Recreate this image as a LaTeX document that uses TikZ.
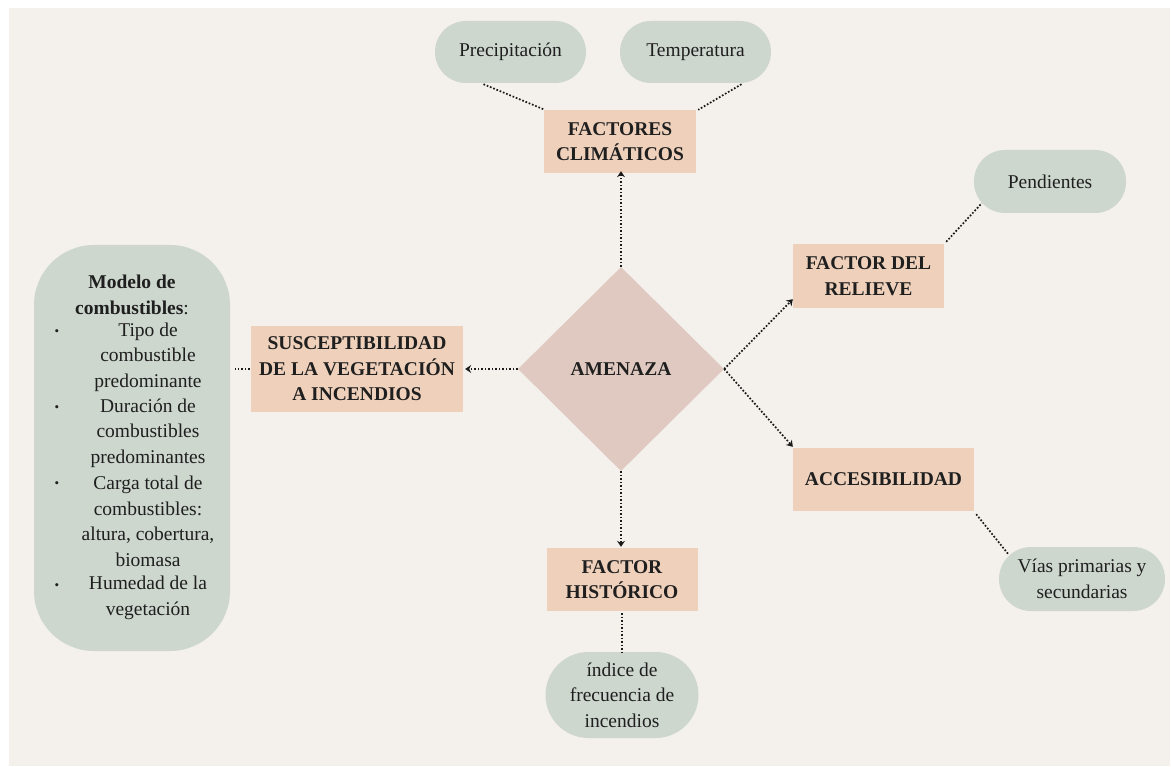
\documentclass[tikz,border=0pt]{standalone}
\usepackage{fontspec}
\setmainfont{Liberation Serif}
\usetikzlibrary{shapes.geometric,calc,arrows.meta}
\definecolor{bgc}{HTML}{F4F0EB}
\definecolor{pillc}{HTML}{CDD7CE}
\definecolor{peach}{HTML}{EFD1BB}
\definecolor{diam}{HTML}{DFC9C0}
\definecolor{txt}{HTML}{1F1F1F}
\definecolor{lnc}{HTML}{1A1A1A}
\begin{document}
\begin{tikzpicture}[x=1pt,y=-1pt,
  every node/.style={font=\fontsize{19.5}{25.5}\selectfont, text=txt, inner sep=0pt, align=center},
  pill/.style={fill=pillc, rounded corners=#1},
  pill/.default=31pt,
  factbox/.style={fill=peach, font=\fontsize{19.5}{25.5}\selectfont\bfseries},
  dots/.style={draw=lnc, line width=1.7pt, dash pattern=on 1.7pt off 1.8pt},
  arr/.style={dots, -{Stealth[length=6pt,width=8pt,inset=2pt]}},
  bul/.style={font=\fontsize{13}{13}\selectfont}
]
\useasboundingbox (0,0) rectangle (1171,767);
\fill[white] (0,0) rectangle (1171,767);
\fill[bgc] (9,8) rectangle (1170,766);

% climate
\node[pill, minimum width=151pt, minimum height=62pt] (prec) at (510.5,52) {Precipitación};
\node[pill, minimum width=151pt, minimum height=62pt] (temp) at (695.5,52) {Temperatura};
\node[factbox, minimum width=152pt, minimum height=63pt] (fc) at (620,141.5) {FACTORES\\CLIMÁTICOS};

% centre
\node[diamond, fill=diam, minimum width=206pt, minimum height=204pt, font=\fontsize{19.5}{25.5}\selectfont\bfseries] (amen) at (621,369) {AMENAZA};

% susceptibility
\node[factbox, minimum width=212pt, minimum height=86pt] (susc) at (357,369) {SUSCEPTIBILIDAD\\DE LA VEGETACIÓN\\A INCENDIOS};
\node[pill=60pt, minimum width=196pt, minimum height=406pt] (lp) at (132,448) {};
\node (lphead) at (132,295) {\textbf{Modelo de}\\\textbf{combustibles}:};
\node (it1) at (148,357) {Tipo de\\combustible\\predominante};
\node (it2) at (148,433) {Duración de\\combustibles\\predominantes};
\node (it3) at (148,521.5) {Carga total de\\combustibles:\\altura, cobertura,\\biomasa};
\node (it4) at (148,598) {Humedad de la\\vegetación};
\node[bul] (b1) at (57,333) {•};
\node[bul] (b2) at (57,409) {•};
\node[bul] (b3) at (57,485) {•};
\node[bul] (b4) at (57,587) {•};

% relief
\node[factbox, minimum width=151pt, minimum height=64pt] (rel) at (868.5,276) {FACTOR DEL\\RELIEVE};
\node[pill, minimum width=152pt, minimum height=63pt] (pend) at (1050,181.5) {Pendientes};

% accessibility
\node[factbox, minimum width=181pt, minimum height=63pt] (acc) at (883.5,479.5) {ACCESIBILIDAD};
\node[pill=32pt, minimum width=166pt, minimum height=64pt] (vias) at (1082,579) {Vías primarias y\\secundarias};

% history
\node[factbox, minimum width=151pt, minimum height=63pt] (hist) at (622,579.5) {FACTOR\\HISTÓRICO};
\node[pill=43pt, minimum width=153pt, minimum height=86pt] (ind) at (622,695) {índice de\\frecuencia de\\incendios};

% connectors
\draw[dots] ($(prec.south)+(-27,1)$) -- ($(fc.north west)+(1,0)$);
\draw[dots] ($(temp.south)+(46,1)$) -- ($(fc.north east)+(2,0)$);
\draw[arr] (amen.north) -- ($(amen.north |- fc.south)+(0,-2)$);
\draw[arr] (amen.west) -- ($(susc.east)+(2,0)$);
\draw[dots] ($(susc.west)+(-1,0)$) -- ($(lp.east |- susc.west)+(5,0)$);
\draw[arr] (amen.east) -- ($(rel.south west)+(0,-9)$);
\draw[arr] (amen.east) -- ($(acc.north west)+(0,-1)$);
\draw[dots] ($(rel.north east)+(2,-2)$) -- ($(pend.south west)+(8,-10)$);
\draw[dots] ($(acc.south east)+(2,3)$) -- ($(vias.north west)+(10,8)$);
\draw[arr] (amen.south) -- ($(amen.south |- hist.north)+(0,-1)$);
\draw[dots] ($(hist.south)+(0,2)$) -- (ind.north);
\end{tikzpicture}
\end{document}
